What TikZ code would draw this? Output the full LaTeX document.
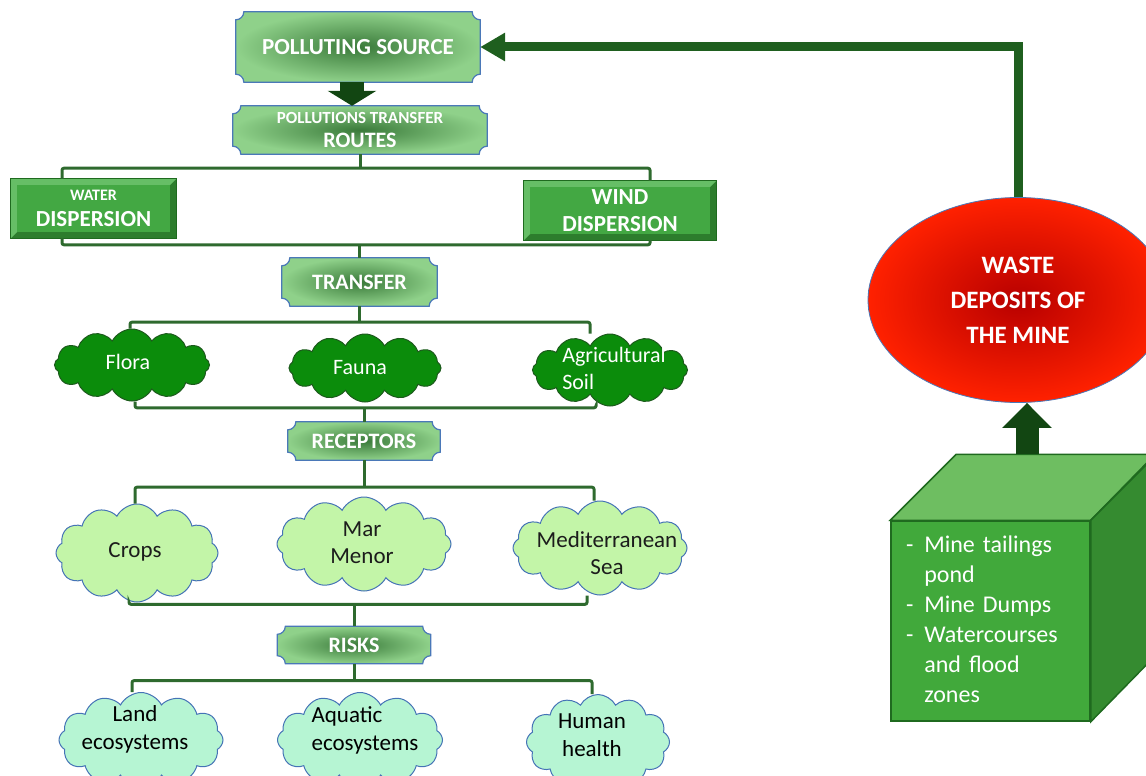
\documentclass[tikz,border=0pt]{standalone}
\usepackage{fontspec}
\setmainfont{Carlito}
\usetikzlibrary{shapes.geometric,shapes.symbols,calc,arrows.meta,backgrounds}
\definecolor{fplaqin}{HTML}{3A7A3A}
\definecolor{fplaqout}{HTML}{8FD18A}
\definecolor{splaq}{HTML}{4A78B8}
\definecolor{fbevel}{HTML}{43A843}
\definecolor{lbevel}{HTML}{66BE66}
\definecolor{dbevel}{HTML}{2D7D2D}
\definecolor{slink}{HTML}{2E6A2E}
\definecolor{sback}{HTML}{1F5F1F}
\definecolor{fblock}{HTML}{124612}
\definecolor{fdark}{HTML}{0B8C0B}
\definecolor{sdark}{HTML}{1D5A1D}
\definecolor{flight}{HTML}{C3F5A8}
\definecolor{faqua}{HTML}{B6F5D3}
\definecolor{sblue}{HTML}{4573B6}
\definecolor{fredin}{HTML}{B80000}
\definecolor{fredout}{HTML}{FF2100}
\definecolor{fcube}{HTML}{41A93B}
\definecolor{fcubetop}{HTML}{6EBE61}
\definecolor{fcubeside}{HTML}{358B30}
\definecolor{scube}{HTML}{1F6A1F}
\definecolor{tdark}{HTML}{1C1C1C}

% box with concave corners, drawn round a named node
\newcommand\plaque[1]{%
  \path[plaqbg] ($(#1.north west)+(8,0)$) -- ($(#1.north east)+(-8,0)$)
    arc[start angle=180,end angle=270,radius=8pt] -- ($(#1.south east)+(0,8)$)
    arc[start angle=90,end angle=180,radius=8pt] -- ($(#1.south west)+(8,0)$)
    arc[start angle=0,end angle=90,radius=8pt] -- ($(#1.north west)+(0,-8)$)
    arc[start angle=270,end angle=360,radius=8pt] -- cycle;}
% bevelled box, drawn round a named node
\newcommand\bevel[1]{%
  \fill[dbevel] (#1.north west) rectangle (#1.south east);
  \fill[lbevel] (#1.north west) -- (#1.north east) -- ++(-6,-6) -- ($(#1.south west)+(6,6)$) -- (#1.south west) -- cycle;
  \fill[fbevel] ($(#1.north west)+(6,-6)$) rectangle ($(#1.south east)+(-6,6)$);
  \draw[scube,line width=1pt] (#1.north west) rectangle (#1.south east);}

\begin{document}
\begin{tikzpicture}[x=1pt,y=1pt,
  plaq/.style={inner sep=0pt,align=center,text=white},
  bevbox/.style={inner sep=0pt,align=center,text=white},
  puff/.style={cloud,cloud puffs=12,cloud puff arc=125,cloud ignores aspect,inner sep=0pt,line width=1pt},
  darkpuff/.style={puff,draw=sdark,fill=fdark},
  lightpuff/.style={puff,draw=sblue,fill=flight},
  aquapuff/.style={puff,draw=sblue,fill=faqua},
  ptext/.style={inner sep=0pt,align=center,text=tdark},
  link/.style={draw=slink,line width=3pt,rounded corners=2pt},
  back/.style={draw=sback,line width=9pt,line join=miter,-{Triangle[length=25pt,width=27pt]}},
  blk/.style={draw=fblock},
  plaqbg/.style={shade,shading=radial,inner color=fplaqin,outer color=fplaqout,draw=splaq,line width=1.2pt},
]
\useasboundingbox (0,0) rectangle (1146,-776);

% left column
\node[plaq,minimum width=244pt,minimum height=70pt,font=\bfseries\fontsize{23}{27}\selectfont] (ps) at (358,-47) {POLLUTING SOURCE};
\node[plaq,minimum width=254pt,minimum height=48pt,font=\bfseries\fontsize{22}{24}\selectfont] (routes) at (360,-130) {{\fontsize{17}{20}\selectfont POLLUTIONS TRANSFER}\\ROUTES};
\node[bevbox,minimum width=165pt,minimum height=59pt,font=\bfseries\fontsize{23}{26}\selectfont] (water) at (93.5,-208.5) {{\fontsize{16}{18}\selectfont WATER}\\DISPERSION};
\node[bevbox,minimum width=192pt,minimum height=59pt,font=\bfseries\fontsize{23}{27}\selectfont] (wind) at (620,-210.5) {WIND\\DISPERSION};
\node[plaq,minimum width=155pt,minimum height=48pt,font=\bfseries\fontsize{22}{26}\selectfont] (transfer) at (359.5,-282) {TRANSFER};

\node[darkpuff,minimum width=155pt,minimum height=72pt] (flora) at (132,-365) {};
\node[darkpuff,minimum width=152pt,minimum height=68pt] (fauna) at (365,-368) {};
\node[darkpuff,minimum width=155pt,minimum height=72pt] (soil) at (610,-370) {};
\node[ptext,text=white,font=\fontsize{22}{27}\selectfont] (florat) at (128,-362) {Flora};
\node[ptext,text=white,font=\fontsize{22}{27}\selectfont] (faunat) at (360,-368) {Fauna};
\node[ptext,text=white,align=left,font=\fontsize{22}{27}\selectfont] (soilt) at (614,-368) {Agricultural\\Soil};

\node[plaq,minimum width=152pt,minimum height=38pt,font=\bfseries\fontsize{22}{26}\selectfont] (receptors) at (364,-441) {RECEPTORS};

\node[lightpuff,minimum width=162pt,minimum height=98pt] (crops) at (137,-553) {};
\node[lightpuff,minimum width=174pt,minimum height=94pt] (marmenor) at (364,-544) {};
\node[lightpuff,minimum width=174pt,minimum height=94pt] (medsea) at (600,-548) {};
\node[ptext,font=\fontsize{23}{27}\selectfont] (cropst) at (135,-552) {Crops};
\node[ptext,font=\fontsize{23}{27}\selectfont] (marmenort) at (362,-543) {Mar\\Menor};
\node[ptext,font=\fontsize{23}{27}\selectfont] (medseat) at (607,-553) {Mediterranean\\Sea};

\node[plaq,minimum width=153pt,minimum height=37pt,font=\bfseries\fontsize{22}{26}\selectfont] (risks) at (354,-645) {RISKS};

\node[aquapuff,minimum width=164pt,minimum height=95pt] (land) at (141,-740) {};
\node[aquapuff,minimum width=165pt,minimum height=95pt] (aquatic) at (360,-740) {};
\node[aquapuff,minimum width=143pt,minimum height=95pt] (human) at (598,-742) {};
\node[ptext,text=black,font=\fontsize{23}{28}\selectfont] (landt) at (135,-729) {Land\\ecosystems};
\node[ptext,text=black,align=left,font=\fontsize{23}{28}\selectfont] (aquatict) at (365,-730) {Aquatic\\ecosystems};
\node[ptext,text=black,font=\fontsize{23}{28}\selectfont] (humant) at (592,-735) {Human\\health};

% right column
\node[ellipse,minimum width=300pt,minimum height=205pt,inner sep=0pt,shade,shading=radial,inner color=fredin,outer color=fredout,draw=splaq,line width=0.8pt,text=white,font=\bfseries\fontsize{25}{35}\selectfont,align=center] (mine) at (1018,-300) {WASTE\\DEPOSITS OF\\THE MINE};
\node[rectangle,minimum width=199pt,minimum height=200pt,inner sep=0pt,fill=fcube,draw=scube,line width=1.5pt,text=white,text width=169pt,font=\fontsize{24}{30}\selectfont] (cube) at (990.5,-621) {%
\begin{tabular}{@{}l@{\hspace{11pt}}l@{}}
- & Mine tailings\\
  & pond\\
- & Mine Dumps\\
- & Watercourses\\
  & and flood\\
  & zones
\end{tabular}};
\filldraw[fill=fcubetop,draw=scube,line width=1.5pt] (cube.north west) -- ++(66,66) -- ++(199,0) -- (cube.north east) -- cycle;
\filldraw[fill=fcubeside,draw=scube,line width=1.5pt] (cube.north east) -- ++(66,66) -- ++(0,-200) -- (cube.south east) -- cycle;

\begin{pgfonlayer}{background}
\plaque{ps}
\plaque{routes}
\plaque{transfer}
\plaque{receptors}
\plaque{risks}
\bevel{water}
\bevel{wind}
\end{pgfonlayer}

% connectors
\draw[blk,line width=24pt,-{Triangle[length=15pt,width=48pt]}] ([xshift=-6pt]ps.south) -- ([xshift=-8pt]routes.north);
\draw[link] (routes.south) -- ++(0,-14) coordinate (j1);
\draw[link] ([xshift=-31.5pt]water.north) |- (j1) -| ([xshift=30pt]wind.north);
\draw[link] (transfer.north) -- ++(0,13) coordinate (j2);
\draw[link] ([xshift=-31.5pt]water.south) |- (j2) -| ([xshift=30pt]wind.south);
\draw[link] (transfer.south) -- ++(0,-16) coordinate (j3);
\draw[link] ([xshift=-2pt]flora.north) |- (j3) -| ([xshift=-20pt]soil.north);
\draw[link] (receptors.north) -- ++(0,14) coordinate (j4);
\draw[link] ([xshift=3pt]flora.south) |- (j4) -| ([xshift=-14pt]soil.south);
\draw[link] (receptors.south) -- ++(0,-27) coordinate (j5);
\draw[link] ([xshift=-2pt]crops.north) |- (j5) -| ([xshift=-6pt]medsea.north);
\draw[link] (risks.north) -- ++(0,22) coordinate (j6);
\draw[link] ([xshift=-8pt]crops.south) |- (j6) -| ([xshift=-13pt]medsea.south);
\draw[link] (risks.south) -- ++(0,-17) coordinate (j7);
\draw[link] ([xshift=-9pt]land.north) |- (j7) -| ([xshift=-6pt]human.north);
\draw[back] (mine.north) |- (ps.east);
\draw[blk,line width=23pt,-{Triangle[length=25pt,width=48pt]}] ([shift={(36.5,66)}]cube.north) -- ([xshift=9pt]mine.south);
\end{tikzpicture}
\end{document}
